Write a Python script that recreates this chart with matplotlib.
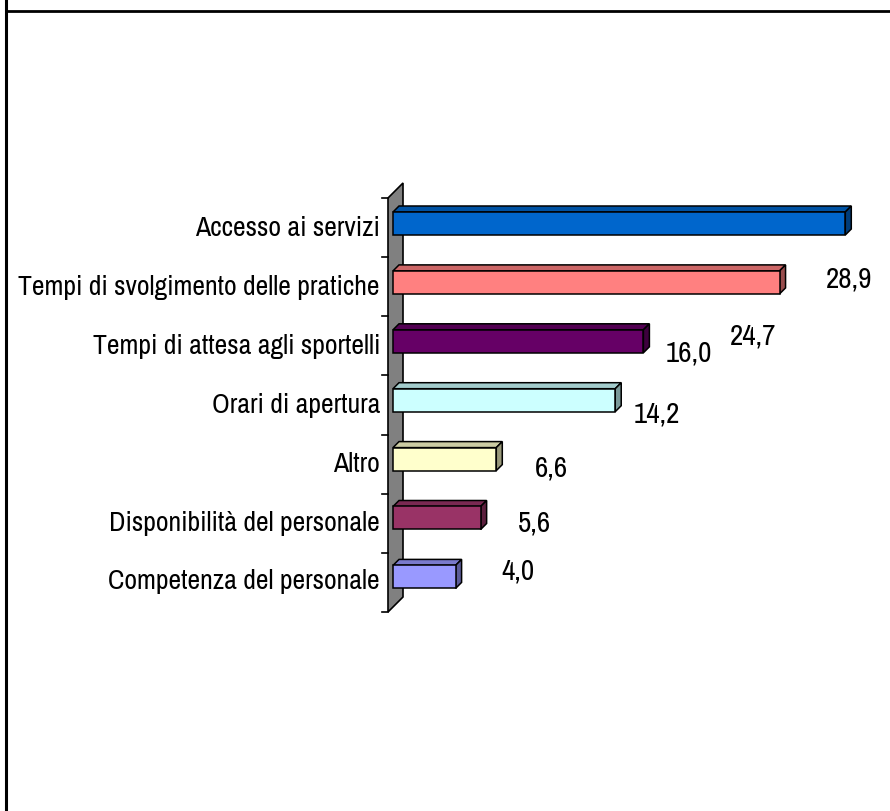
import matplotlib
matplotlib.use("Agg")
import matplotlib.pyplot as plt
from matplotlib.patches import Polygon, Rectangle
from matplotlib.lines import Line2D

categories = [
    "Accesso ai servizi",
    "Tempi di svolgimento delle pratiche",
    "Tempi di attesa agli sportelli",
    "Orari di apertura",
    "Altro",
    "Disponibilità del personale",
    "Competenza del personale",
]
values = [28.9, 24.7, 16.0, 14.2, 6.6, 5.6, 4.0]
value_labels = ["28,9", "24,7", "16,0", "14,2", "6,6", "5,6", "4,0"]

bar_colors = ["#0066CC", "#FF8080", "#660066", "#CCFFFF",
              "#FFFFCC", "#993366", "#9999FF"]
# label offsets from the bar tip, in pixels (dx right, dy down)
label_offsets = [(-2, 56), (-32, 54), (39, 12), (36, 14),
                 (49, 9), (48, 5), (56, -6)]

family = ["Archivo Narrow", "Liberation Sans", "DejaVu Sans"]

W, H, DPI = 890, 811, 100
fig = plt.figure(figsize=(W / DPI, H / DPI), dpi=DPI)
fig.patch.set_facecolor("white")

# plot area in pixels
px_left, px_right, px_top, px_bottom = 388, 880, 170, 630
ax = fig.add_axes([px_left / W, 1 - px_bottom / H,
                   (px_right - px_left) / W, (px_bottom - px_top) / H])
ax.set_axis_off()

x0_px = 393.0          # value 0
kx = 15.65             # pixels per unit
row0_px = 223.5
ky = 58.9              # pixels per category
ax.set_xlim((px_left - x0_px) / kx, (px_right - x0_px) / kx)
ax.set_ylim((px_bottom - row0_px) / ky, (px_top - row0_px) / ky)


def dxu(p):
    return p / kx


def dyu(p):
    return p / ky


# 3D depth of bars
ddx, ddy = dxu(6), -dyu(6)
half = dyu(11.5)

# side wall
wl, wr = dxu(388 - x0_px), dxu(403 - x0_px)
wall = Polygon([(wl, dyu(198 - row0_px)), (wr, dyu(183 - row0_px)),
                (wr, dyu(597 - row0_px)), (wl, dyu(612 - row0_px))],
               closed=True, facecolor="#808080", edgecolor="black",
               linewidth=1.2, clip_on=False, zorder=1)
ax.add_patch(wall)
for j in range(len(categories) + 1):
    yt = dyu(198 - row0_px) + j * dyu(59.14)
    ax.add_line(Line2D([dxu(382 - x0_px), wl], [yt, yt], color="black",
                       linewidth=1.2, clip_on=False, zorder=1))


def shade(c, f):
    r, g, b = matplotlib.colors.to_rgb(c)
    return (r * f, g * f, b * f)


for i, (v, c) in enumerate(zip(values, bar_colors)):
    top = i - half
    bot = i + half
    ax.add_patch(Polygon([(0, top), (v, top), (v + ddx, top + ddy),
                          (ddx, top + ddy)], closed=True,
                         facecolor=shade(c, 0.8), edgecolor="black",
                         linewidth=1.1, zorder=3, clip_on=False))
    ax.add_patch(Polygon([(v, top), (v + ddx, top + ddy),
                          (v + ddx, bot + ddy), (v, bot)], closed=True,
                         facecolor=shade(c, 0.6), edgecolor="black",
                         linewidth=1.1, zorder=3, clip_on=False))
    ax.add_patch(Rectangle((0, top), v, bot - top, facecolor=c,
                           edgecolor="black", linewidth=1.1, zorder=4,
                           clip_on=False))
    ox, oy = label_offsets[i]
    ax.text(v + ddx + dxu(ox), i + dyu(oy), value_labels[i],
            ha="center", va="center", fontsize=21, family=family,
            color="black", zorder=5, clip_on=False)
    ax.text(dxu(380 - x0_px), i + dyu(5), categories[i], ha="right",
            va="center", fontsize=20, family=family, color="black",
            clip_on=False)

# outer frame
fig.add_artist(Line2D([5.5 / W, 5.5 / W], [0, 1], transform=fig.transFigure,
                      color="black", linewidth=2.2))
fig.add_artist(Line2D([5.5 / W, 1], [1 - 11 / H, 1 - 11 / H],
                      transform=fig.transFigure, color="black", linewidth=2.0))

fig.savefig("out.png", dpi=DPI, facecolor="white")
